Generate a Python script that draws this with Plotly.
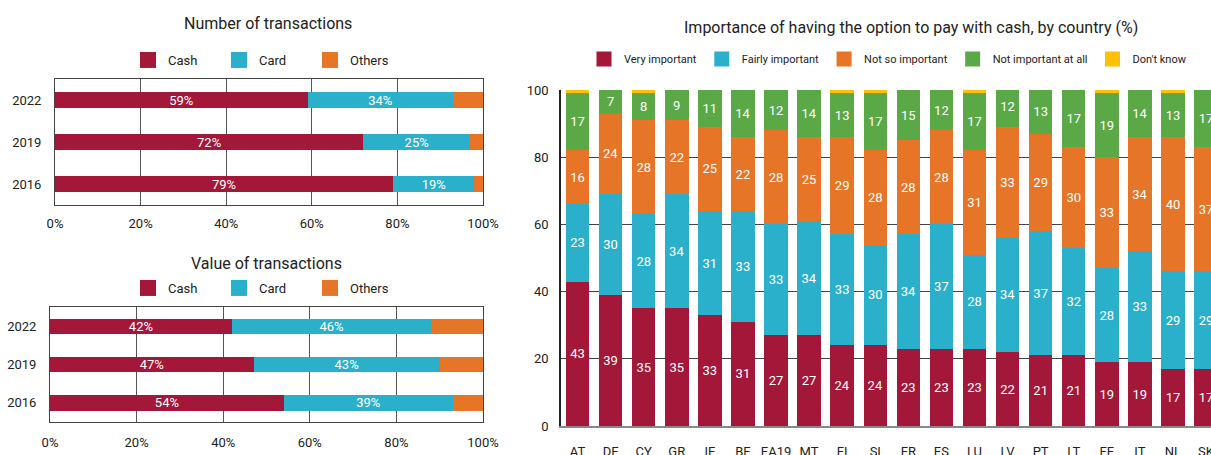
import plotly.graph_objects as go

# ---- data ----
years = ["2022", "2019", "2016"]
num_cash = [59, 72, 79]
num_card = [34, 25, 19]
num_others = [7, 3, 2]
val_cash = [42, 47, 54]
val_card = [46, 43, 39]
val_others = [12, 10, 7]

countries = ["AT", "DE", "CY", "GR", "IE", "BE", "EA19", "MT", "FI", "SI",
             "FR", "ES", "LU", "LV", "PT", "LT", "EE", "IT", "NL", "SK"]
very_imp = [43, 39, 35, 35, 33, 31, 27, 27, 24, 24, 23, 23, 23, 22, 21, 21, 19, 19, 17, 17]
fairly_imp = [23, 30, 28, 34, 31, 33, 33, 34, 33, 30, 34, 37, 28, 34, 37, 32, 28, 33, 29, 29]
notso_imp = [16, 24, 28, 22, 25, 22, 28, 25, 29, 28, 28, 28, 31, 33, 29, 30, 33, 34, 40, 37]
notatall_imp = [17, 7, 8, 9, 11, 14, 12, 14, 13, 17, 15, 12, 17, 12, 13, 17, 19, 14, 13, 17]
dont_know = [1, 0, 1, 0, 0, 0, 0, 0, 1, 1, 0, 0, 1, 0, 0, 0, 1, 0, 1, 0]

x_ticks = [0, 20, 40, 60, 80, 100]
x_ticktext = ["0%", "20%", "40%", "60%", "80%", "100%"]
y_ticks = [0, 20, 40, 60, 80, 100]

# ---- styles ----
C_CASH = "#A31738"
C_CARD = "#2BB0CC"
C_OTH = "#E67527"
C_GREEN = "#5BA846"
C_YEL = "#FFC000"
FONT = "Roboto, sans-serif"
W, H = 1211, 455

fig = go.Figure()

def legend_key(name, color, xa, ya, legend, size):
    # legend-only entry (no data drawn) so the key square can be larger
    fig.add_trace(go.Scatter(
        x=[None], y=[None], mode="markers", name=name,
        marker=dict(symbol="square", size=size, color=color, line=dict(width=0)),
        xaxis=xa, yaxis=ya, legend=legend, hoverinfo="skip",
    ))

def hbar(vals, name, color, xa, ya, legend, labels=True):
    fig.add_trace(go.Bar(
        y=years, x=vals, name=name, orientation="h",
        marker=dict(color=color, line=dict(width=0)),
        width=0.4, showlegend=False,
        text=[f"{v}%" for v in vals] if labels else None,
        textposition="inside" if labels else "none",
        insidetextanchor="middle", textangle=0, constraintext="none",
        textfont=dict(color="white", size=13, family=FONT),
        xaxis=xa, yaxis=ya, hoverinfo="x+name",
    ))
    legend_key(name, color, xa, ya, legend, 16)

hbar(num_cash, "Cash", C_CASH, "x", "y", "legend")
hbar(num_card, "Card", C_CARD, "x", "y", "legend")
hbar(num_others, "Others", C_OTH, "x", "y", "legend", labels=False)
hbar(val_cash, "Cash", C_CASH, "x2", "y2", "legend2")
hbar(val_card, "Card", C_CARD, "x2", "y2", "legend2")
hbar(val_others, "Others", C_OTH, "x2", "y2", "legend2", labels=False)

def vbar(vals, name, color, labels=True):
    fig.add_trace(go.Bar(
        x=countries, y=vals, name=name,
        marker=dict(color=color, line=dict(width=0)),
        width=0.71, showlegend=False,
        text=[str(v) for v in vals] if labels else None,
        textposition="inside" if labels else "none",
        insidetextanchor="middle", textangle=0, constraintext="none",
        textfont=dict(color="white", size=13, family=FONT),
        xaxis="x3", yaxis="y3", hoverinfo="y+name",
    ))
    legend_key(name, color, "x3", "y3", "legend3", 15)

vbar(very_imp, "Very important", C_CASH)
vbar(fairly_imp, "Fairly important", C_CARD)
vbar(notso_imp, "Not so important", C_OTH)
vbar(notatall_imp, "Not important at all", C_GREEN)
vbar(dont_know, "Don't know", C_YEL, labels=False)

def px(p):
    return p / W

def py(p):
    return 1 - p / H

axis_font = dict(family=FONT, size=13, color="#222")

left_x = dict(range=[0, 100], tickvals=x_ticks, ticktext=x_ticktext,
              showgrid=True, gridcolor="#555", gridwidth=1,
              showline=True, linecolor="#444", linewidth=1, mirror=True,
              zeroline=False, ticks="", tickfont=axis_font, fixedrange=True)
left_y = dict(type="category", categoryorder="array",
              categoryarray=["2016", "2019", "2022"],
              showgrid=False, showline=True, linecolor="#444", linewidth=1, mirror=True,
              ticks="", tickfont=axis_font, ticklabelstandoff=10, fixedrange=True)

leg_font = dict(family=FONT, size=13, color="#222")

fig.update_layout(
    width=W, height=H,
    margin=dict(l=0, r=0, t=0, b=0, autoexpand=False),
    paper_bgcolor="white", plot_bgcolor="white",
    barmode="stack",
    font=dict(family=FONT, size=13, color="#222"),
    xaxis=dict(domain=[px(55), px(483)], anchor="y", ticklabelstandoff=6, **left_x),
    yaxis=dict(domain=[py(205), py(79)], anchor="x", **left_y),
    xaxis2=dict(domain=[px(50), px(483)], anchor="y2", ticklabelstandoff=8, **left_x),
    yaxis2=dict(domain=[py(422), py(307)], anchor="x2", **left_y),
    xaxis3=dict(domain=[px(561), 1.0], anchor="y3", type="category",
                range=[-0.5, 19.15], showgrid=False, showline=True,
                linecolor="#888", linewidth=2, ticks="", tickfont=axis_font,
                ticklabelstandoff=12, fixedrange=True),
    yaxis3=dict(domain=[py(426), py(90)], anchor="x3", range=[0, 100],
                tickvals=y_ticks, showgrid=True, gridcolor="#444", gridwidth=1,
                showline=True, linecolor="#222", linewidth=1.5, zeroline=False,
                ticks="", tickfont=axis_font, ticklabelstandoff=8, fixedrange=True),
    legend=dict(orientation="h", x=px(128), y=py(60), xanchor="left", yanchor="middle",
                font=leg_font, entrywidth=46, itemsizing="trace",
                traceorder="normal", bgcolor="rgba(0,0,0,0)"),
    legend2=dict(orientation="h", x=px(128), y=py(288), xanchor="left", yanchor="middle",
                 font=leg_font, entrywidth=46, itemsizing="trace",
                 traceorder="normal", bgcolor="rgba(0,0,0,0)"),
    legend3=dict(orientation="h", x=px(584), y=py(59), xanchor="left", yanchor="middle",
                 font=dict(family=FONT, size=11, color="#222"), itemsizing="trace",
                 traceorder="normal", bgcolor="rgba(0,0,0,0)"),
    annotations=[
        dict(text="Number of transactions", x=px(268), y=py(23), xref="paper", yref="paper",
             showarrow=False, xanchor="center", yanchor="middle",
             font=dict(family=FONT, size=16, color="#222")),
        dict(text="Value of transactions", x=px(266), y=py(263), xref="paper", yref="paper",
             showarrow=False, xanchor="center", yanchor="middle",
             font=dict(family=FONT, size=16, color="#222")),
        dict(text="Importance of having the option to pay with cash, by country (%)",
             x=px(911), y=py(27), xref="paper", yref="paper",
             showarrow=False, xanchor="center", yanchor="middle",
             font=dict(family=FONT, size=16, color="#222")),
    ],
)

fig.write_html("out.html")
